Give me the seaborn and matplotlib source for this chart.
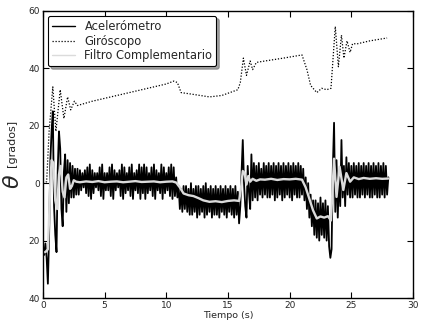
import numpy as np
import matplotlib
matplotlib.use("Agg")
import matplotlib.pyplot as plt
import seaborn as sns

# accelerometer angle, one sample every 0.1 s (0.0 .. 28.0 s)
accel_dt = 0.1
accel = [
    -22, -25, -21, -26, -35, -18, 8, 18, 25, -8,
    -18, -24, 5, 18, 12, -9, -15, 4, 10, -10,
    8, -7, 7, -5, 6, -5, 5, -4, 5, -4,
    4.5, -2.5, 3.5, -1.5, 4.5, -3.5, 5.5, -4.5, 6.5, -5.5,
    4.5, -3.5, 3.5, -1.5, 3.5, -2.5, 5.5, -4.5, 6.5, -5.5,
    3.5, -2.5, 3.5, -2.5, 5.5, -4.5, 6.5, -5.5, 4.5, -2.5,
    3.5, -1.5, 4.5, -4.5, 6.5, -5.5, 5.5, -3.5, 3.5, -2.5,
    5.5, -4.5, 6.5, -5.5, 3.5, -2.5, 4.5, -3.5, 6.5, -5.5,
    5.5, -3.5, 6.5, -5.5, 5.5, -3.5, 3.5, -2.5, 5.5, -4.5,
    6.5, -5.5, 4.5, -2.5, 3.5, -3.5, 6.5, -5.5, 5.5, -3.5,
    3.5, -2.5, 5.5, -4.5, 6.5, -5.5, 5.5, -4.5, 2, -5,
    -1, -9, -2, -10, -1, -9, -1, -10, -2, -11,
    0, -11, -2, -10, -1, -12, -1, -11, -2, -10,
    -1, -12, 0, -11, -2, -10, -1, -12, -2, -11,
    -1, -11, -2, -12, -1, -10, -2, -11, -1, -12,
    -2, -10, -1, -11, -2, -12, -1, -11, -3, -14,
    -8, 4, 15, 0, -8, -12, 6, -3, -9, 10,
    -6, 7, -5, 6, -6, 7, -4, 5, -5, 7,
    -4, 6, -5, 7, -5, 6, -4, 7, -6, 6,
    -5, 7, -4, 6, -6, 7, -5, 6, -4, 7,
    -5, 6, -6, 7, -4, 6, -5, 7, -5, 6,
    -4, 5, -6, 2, -9, 0, -12, -4, -15, -6,
    -18, -6, -19, -7, -20, -5, -18, -7, -19, -6,
    -20, -8, -22, -26, -23, 5, 21, -10, 8, -12,
    3, -8, 15, -5, 6, -8, 9, -4, 7, -5,
    6, -5, 7, -4, 6, -5, 7, -5, 6, -4,
    7, -5, 6, -4, 7, -5, 6, -5, 7, -4,
    6, -5, 7, -5, 6, -4, 7, -5, 6, -4,
    2,
]
accel_t = np.arange(len(accel)) * accel_dt

# gyroscope angle (dotted)
gyro_t = [0.0, 0.3, 0.5, 0.8, 1.05, 1.4, 1.7, 2.0, 2.25, 2.55,
          2.8, 4.0, 6.0, 8.0, 10.0, 10.6, 10.9, 11.2, 12.0, 13.5,
          14.5, 15.8, 16.0, 16.25, 16.5, 16.8, 17.0, 17.3, 18.0, 19.5,
          21.0, 21.4, 21.7, 22.2, 22.6, 23.0, 23.35, 23.7, 23.95, 24.2,
          24.4, 24.65, 24.9, 25.1, 25.5, 26.5, 27.9]
gyro = [0.0, 0.5, 18, 33.5, 18, 32.5, 22.5, 30, 25.5, 28.5,
        27, 28.5, 30.5, 32.5, 34.5, 35.5, 35, 31.5, 31, 30,
        30.5, 32.5, 35, 43.5, 37.5, 42.5, 39.5, 42, 42.5, 43.5,
        44.6, 39.5, 34, 31.5, 33, 32.5, 33, 54.5, 40.5, 51.5,
        43.5, 49.5, 45.5, 48.5, 48.5, 49.5, 50.5]

# complementary filter output (light grey)
filt_t = [0.0, 0.2, 0.4, 0.5, 0.6, 0.7, 0.85, 1.0, 1.15, 1.3,
          1.45, 1.6, 1.75, 1.9, 2.05, 2.2, 2.35, 2.5, 2.7, 3.0,
          3.5, 4.0, 4.5, 5.0, 5.5, 6.0, 6.5, 7.0, 7.5, 8.0,
          8.5, 9.0, 9.5, 10.0, 10.5, 10.8, 11.1, 11.4, 11.8, 12.2,
          12.6, 13.0, 13.5, 14.0, 14.5, 15.0, 15.5, 15.9, 16.05, 16.2,
          16.35, 16.5, 16.65, 16.8, 17.0, 17.3, 17.6, 18.0, 18.5, 19.0,
          19.5, 20.0, 20.5, 21.0, 21.3, 21.6, 21.9, 22.2, 22.5, 22.8,
          23.1, 23.35, 23.6, 23.8, 24.05, 24.35, 24.6, 24.9, 25.2, 25.6,
          26.0, 26.5, 27.0, 27.5, 28.0]
filt = [-24, -24, -23, -12, 0, 8, 7, -6, -9, 3,
        6, -3, -5, 2, 3, -2, -1, 1, 0.5, 0.3,
        0.6, 0.4, 0.7, 0.3, 0.5, 0.6, 0.3, 0.5, 0.7, 0.4,
        0.5, 0.6, 0.3, 0.5, 0.6, 0.2, -1.5, -3.6, -4.2, -4.5,
        -5.2, -6.0, -6.5, -6.3, -6.6, -6.2, -6.0, -6.2, -2.0, 4.2,
        3.5, -0.5, 2.5, 0.5, 1.5, 0.8, 1.3, 1.2, 1.5, 1.1,
        1.4, 1.3, 1.5, 1.2, -1.5, -5.5, -9.5, -12.3, -11.6, -12.0,
        -11.5, -13.0, 8.5, -4.8, 5.7, -2.4, 3.5, 0.5, 2.0, 1.4,
        1.8, 1.5, 1.7, 1.5, 1.6]

xticks = [0, 5, 10, 15, 20, 25, 30]
yticks = [-40, -20, 0, 20, 40, 60]
ytick_labels = ['40', '20', '0', '20', '40', '60']

sns.set_style("ticks")
plt.rcParams['font.family'] = ['DejaVu Sans']

fig = plt.figure(figsize=(4.21, 3.24), dpi=100)
ax = fig.add_axes([0.102, 0.080, 0.879, 0.887])

sns.lineplot(x=accel_t, y=accel, ax=ax, color='black', lw=1.3,
             estimator=None, sort=False, label='Acelerómetro')
sns.lineplot(x=gyro_t, y=gyro, ax=ax, color='black', lw=0.9,
             dashes=False, estimator=None, sort=False, label='Giróscopo')
ax.lines[-1].set_linestyle((0, (1, 1.4)))
sns.lineplot(x=filt_t, y=filt, ax=ax, color='0.86', lw=1.7,
             estimator=None, sort=False, label='Filtro Complementario')

ax.set_xlim(0, 30)
ax.set_ylim(-40, 60)
ax.set_xticks(xticks)
ax.set_yticks(yticks)
ax.set_yticklabels(ytick_labels)
ax.tick_params(direction='in', top=True, right=True, length=4, width=0.8,
               labelsize=6.5, pad=2, color='black')
for s in ax.spines.values():
    s.set_color('black')
    s.set_linewidth(1.0)

ax.set_xlabel('Tiempo (s)', fontsize=6.8, labelpad=1)
ax.set_ylabel('')
fig.text(0.030, 0.441, r'$\theta$', fontsize=16, rotation=90,
         ha='center', va='center')
fig.text(0.028, 0.556, '[grados]', fontsize=8, rotation=90,
         ha='center', va='center')

leg = ax.legend(loc='upper left', fontsize=8.3, fancybox=True, shadow=True,
                frameon=True, borderaxespad=0.45, handlelength=2.0,
                labelspacing=0.15, borderpad=0.35)
leg.get_frame().set_edgecolor('black')
leg.get_frame().set_linewidth(0.8)
leg.get_frame().set_alpha(1.0)
handles = leg.get_lines()
handles[0].set_linewidth(1.0)
handles[1].set_linestyle((0, (1, 1.4)))
handles[2].set_linewidth(1.0)

fig.savefig('out.png', dpi=100)
